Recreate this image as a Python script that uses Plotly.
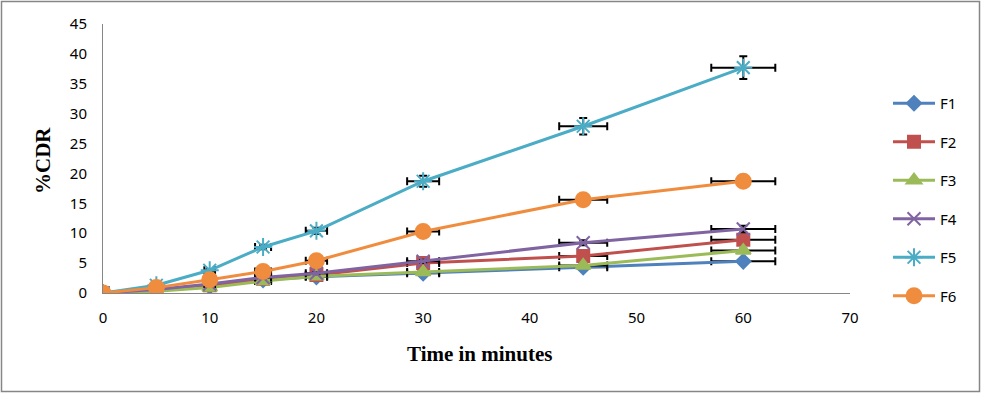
import plotly.graph_objects as go

time_min = [0, 5, 10, 15, 20, 30, 45, 60]
F1 = [0, 0.4, 1.1, 2.2, 2.7, 3.3, 4.3, 5.3]
F2 = [0, 0.5, 1.3, 2.4, 3.0, 5.0, 6.2, 8.9]
F3 = [0, 0.3, 0.9, 2.0, 2.8, 3.5, 4.6, 7.1]
F4 = [0, 0.6, 1.5, 2.6, 3.3, 5.3, 8.4, 10.7]
F5 = [0, 1.3, 3.8, 7.7, 10.4, 18.7, 27.9, 37.7]
F6 = [0, 0.9, 2.2, 3.6, 5.4, 10.3, 15.6, 18.7]
names = ["F1", "F2", "F3", "F4", "F5", "F6"]
series = [F1, F2, F3, F4, F5, F6]
colors = ["#4F81BD", "#C0504D", "#9BBB59", "#8064A2", "#4BACC6", "#F08C3E"]
symbols = ["diamond", "square", "triangle-up", "x-thin-open", "asterisk-open", "circle"]
sizes = [11, 12, 13, 13, 15, 15]
err_pct = 5

fig = go.Figure()
for i, (n, ys) in enumerate(zip(names, series)):
    fig.add_trace(go.Scatter(
        x=time_min, y=ys, name=n, mode="lines+markers",
        legendgroup=n,
        line=dict(color=colors[i], width=3),
        marker=dict(symbol=symbols[i], size=sizes[i], color=colors[i],
                    line=dict(color=colors[i], width=2)),
        error_x=dict(type="percent", value=err_pct, color="black", thickness=2, width=4),
        error_y=dict(type="percent", value=err_pct, color="black", thickness=2, width=4),
    ))

W, H = 981, 394
L, R, T, B = 103, 131, 24, 101
pw, ph = W - L - R, H - T - B

def px(x):
    return (x - L) / pw

def py(y):
    return (H - B - y) / ph

fig.update_layout(
    width=W, height=H,
    margin=dict(l=L, r=R, t=T, b=B, autoexpand=False),
    paper_bgcolor="white", plot_bgcolor="white",
    font=dict(family="Noto Sans", size=15, color="black"),
    showlegend=True,
    legend=dict(x=px(888), y=py(87), xanchor="left", yanchor="top",
                traceorder="grouped", tracegroupgap=16,
                font=dict(family="Noto Sans", size=15, color="black"),
                itemwidth=42, bgcolor="rgba(0,0,0,0)"),
    xaxis=dict(range=[0, 70], tickvals=list(range(0, 71, 10)),
               showgrid=False, zeroline=False, showline=True, automargin=False,
               linecolor="#868686", linewidth=1, ticks="", ticklabelstandoff=11,
               tickfont=dict(family="Noto Sans", size=15)),
    yaxis=dict(range=[0, 45], tickvals=list(range(0, 46, 5)),
               showgrid=False, zeroline=False, showline=True, automargin=False,
               linecolor="#868686", linewidth=1, ticks="", ticklabelstandoff=12,
               tickfont=dict(family="Noto Sans", size=15)),
    annotations=[
        dict(text="<b>Time in minutes</b>", xref="paper", yref="paper",
             x=px(479), y=py(354), xanchor="center", yanchor="middle", showarrow=False,
             font=dict(family="Liberation Serif", size=21, color="black")),
        dict(text="<b>%CDR</b>", xref="paper", yref="paper", textangle=-90,
             x=px(43), y=py(161), xanchor="center", yanchor="middle", showarrow=False,
             font=dict(family="Liberation Serif", size=21, color="black")),
    ],
    shapes=[dict(type="rect", xref="paper", yref="paper",
                 x0=px(1.5), x1=px(979.5), y0=py(391.5), y1=py(1.5),
                 line=dict(color="#868686", width=1.5), fillcolor="rgba(0,0,0,0)",
                 layer="below")],
)

fig.write_html("out.html", config={"displayModeBar": False},
               post_script="document.body.style.margin='0';")
